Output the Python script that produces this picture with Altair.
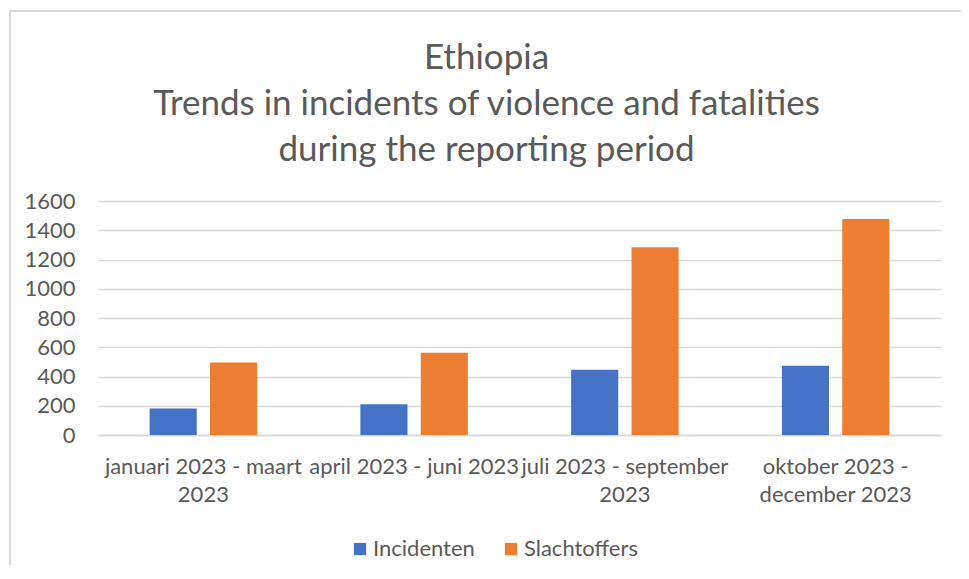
import altair as alt
import pandas as pd

periods = [
    "januari 2023 - maart 2023",
    "april 2023 - juni 2023",
    "juli 2023 - september 2023",
    "oktober 2023 - december 2023",
]
period_lines = [
    ["januari 2023 - maart", "2023"],
    ["april 2023 - juni 2023"],
    ["juli 2023 - september", "2023"],
    ["oktober 2023 -", "december 2023"],
]
series = ["Incidenten", "Slachtoffers"]
incidenten = [182, 210, 446, 473]
slachtoffers = [496, 562, 1283, 1477]
y_ticks = [0, 200, 400, 600, 800, 1000, 1200, 1400, 1600]
colors = ["#4472C4", "#ED7D31"]
title_lines = [
    "Ethiopia",
    "Trends in incidents of violence and fatalities",
    "during the reporting period",
]

FONT = "Lato"
TXT = "#595959"
GRID = "#d9d9d9"

rows = []
for p, a, b in zip(periods, incidenten, slachtoffers):
    rows.append({"periode": p, "reeks": series[0], "waarde": a})
    rows.append({"periode": p, "reeks": series[1], "waarde": b})
df = pd.DataFrame(rows)


def js_list(items):
    return "[" + ",".join("'" + s + "'" for s in items) + "]"


label_expr = ""
for p, lines in zip(periods, period_lines):
    label_expr += f"datum.value == '{p}' ? {js_list(lines)} : "
label_expr += "datum.value"

bars = alt.Chart(df).mark_bar().encode(
    x=alt.X(
        "periode:N",
        sort=periods,
        scale=alt.Scale(paddingInner=0.49, paddingOuter=0.245),
        axis=alt.Axis(
            title=None,
            labelExpr=label_expr,
            labelAngle=0,
            labelFont=FONT,
            labelFontSize=22,
            labelColor=TXT,
            labelLineHeight=28,
            labelPadding=21,
            labelOverlap=False,
            labelBound=False,
            labelLimit=400,
            ticks=False,
            domain=True,
            domainColor=GRID,
            domainWidth=1.5,
        ),
    ),
    xOffset=alt.XOffset(
        "reeks:N", sort=series, scale=alt.Scale(paddingInner=0.22, paddingOuter=0)
    ),
    y=alt.Y(
        "waarde:Q",
        scale=alt.Scale(domain=[0, 1600], nice=False),
        axis=alt.Axis(
            values=y_ticks,
            format="d",
            title=None,
            labelFont=FONT,
            labelFontSize=22,
            labelColor=TXT,
            labelPadding=23,
            ticks=False,
            domain=False,
            gridColor=GRID,
            gridWidth=1.5,
        ),
    ),
    color=alt.Color(
        "reeks:N",
        sort=series,
        scale=alt.Scale(domain=series, range=colors),
        legend=alt.Legend(
            title=None,
            orient="none",
            direction="horizontal",
            legendX=251,
            legendY=337,
            symbolType="square",
            symbolSize=150,
            symbolStrokeWidth=0,
            symbolOpacity=1,
            labelFont=FONT,
            labelFontSize=22,
            labelColor=TXT,
            labelOffset=2,
            columnPadding=25,
        ),
    ),
)

frame_top = alt.Chart(df).mark_rule(color=GRID, strokeWidth=1.5).encode(
    x=alt.value(-88), x2=alt.value(880), y=alt.value(-190)
)
frame_left = alt.Chart(df).mark_rule(color=GRID, strokeWidth=1.5).encode(
    x=alt.value(-88), y=alt.value(-190), y2=alt.value(390)
)

chart = (
    alt.layer(frame_top, frame_left, bars)
    .properties(
        width=843,
        height=234,
        autosize=alt.AutoSizeParams(type="none"),
        padding={"left": 90, "top": 193, "right": 20, "bottom": 130},
        title=alt.TitleParams(
            title_lines,
            font=FONT,
            fontSize=35,
            fontWeight="normal",
            color=TXT,
            lineHeight=46,
            anchor="middle",
            baseline="bottom",
            dx=-33,
            dy=193,
            offset=0,
        ),
    )
    .configure_view(stroke=None)
)

chart.save("out.html", embed_options={"renderer": "svg", "actions": False})
